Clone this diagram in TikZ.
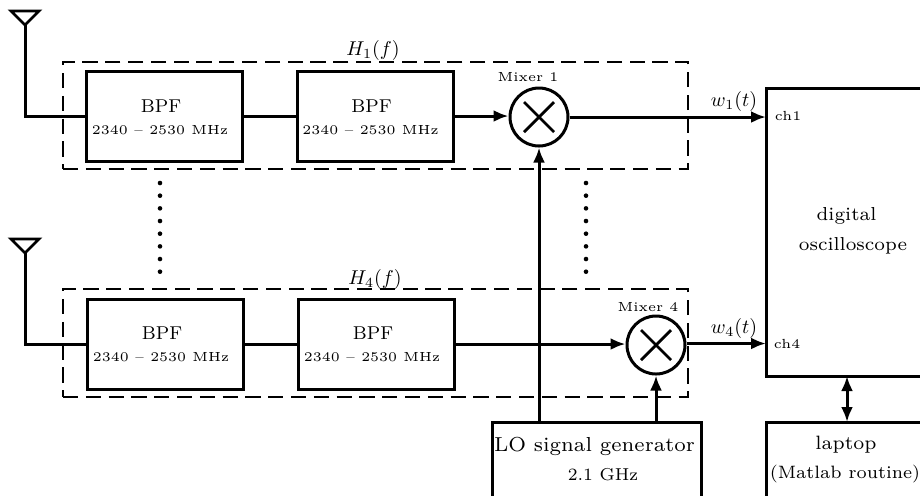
\documentclass[tikz,border=0pt]{standalone}
\usetikzlibrary{arrows.meta}
\tikzset{
  blk/.style={draw,line width=1.5pt,inner sep=0pt,minimum width=78pt,minimum height=45pt},
  mix/.style={draw,circle,line width=1.5pt,inner sep=0pt,minimum size=29pt},
  conn/.style={line width=1.5pt},
  arr/.style={line width=1.5pt,-{Latex[length=7.5pt,width=6pt]}},
  darr/.style={line width=1.5pt,{Latex[length=7.5pt,width=6pt]}-{Latex[length=7.5pt,width=6pt]}},
  frame/.style={draw,line width=0.75pt,dash pattern=on 7.6pt off 3.8pt,inner sep=0pt},
  ant/.style={draw,line width=1.35pt,line join=miter},
  big/.style={inner sep=0pt,font=\scriptsize,scale=1.34},
  bpf/.style={inner sep=0pt,font=\footnotesize,scale=1.16},
  small/.style={inner sep=0pt,font=\tiny,scale=1.32},
  mth/.style={inner sep=0pt,font=\normalsize},
  dot/.style={circle,fill=black,inner sep=0pt,minimum size=2.3pt}
}
\begin{document}
\begin{tikzpicture}[x=0.5pt,y=-0.5pt]
\useasboundingbox (0,0) rectangle (920,495);
\clip (0,0) rectangle (920,495);
% dashed frames
\node[frame,minimum width=312.5pt,minimum height=53.5pt] (f1) at (375.5,115.5) {};
\node[frame,minimum width=312.5pt,minimum height=54pt] (f4) at (375.5,343) {};
% blocks
\node[blk] (b11) at (164,116) {};
\node[blk] (b12) at (375,116) {};
\node[blk] (b41) at (165.5,344) {};
\node[blk] (b42) at (376,344) {};
\node[blk,minimum width=104.5pt,minimum height=60pt] (lo) at (596.5,482) {};
\node[blk,minimum width=120pt,minimum height=144pt] (osc) at (886,232) {};
\node[blk,minimum width=120pt,minimum height=60pt] (lap) at (886,482) {};
\foreach \n/\x/\y/\xx/\yy in {11/161/0/160/0,12/371.5/0/370.5/0,41/162/227/161/227,42/373/227/372/227}{
  \node[bpf] (t\n) at (\x,106+\y) {BPF};
  \node[small] (s\n) at (\xx,130+\yy) {2340 -- 2530 MHz};
}
\node[big,scale=1.08] (lot) at (594.5,446) {LO signal generator};
\node[big,scale=0.92] (lof) at (603,475) {2.1 GHz};
\node[big] (dig) at (846.5,216) {digital};
\node[big] (oscl) at (853,246) {oscilloscope};
\node[big,scale=1.03] (lapt) at (846,445) {laptop};
\node[big,scale=0.955] (matl) at (845,474) {(Matlab routine)};
% mixers
\node[mix] (m1) at (539,117) {};
\node[mix] (m4) at (656,345) {};
\foreach \m in {m1,m4}{
  \draw[line width=1.4pt] ([shift={(-15,-15)}]\m.center) -- ([shift={(15,15)}]\m.center);
  \draw[line width=1.4pt] ([shift={(15,-15)}]\m.center) -- ([shift={(-15,15)}]\m.center);
}
\node[small] (lm1) at (528,77) {Mixer 1};
\node[small] (lm4) at (648,307) {Mixer 4};
% antennas
\coordinate (a1) at (25,25);
\coordinate (a4) at (25,253);
\foreach \a in {a1,a4}{
  \draw[ant] ([shift={(0,0)}]\a) -- ([shift={(-14,-14)}]\a) -- ([shift={(14,-14)}]\a) -- cycle;
}
\draw[conn] (a1) |- (b11.west);
\draw[conn] (a4) |- (b41.west);
% connectors
\draw[conn] (b11) -- (b12);
\draw[conn] (b41) -- (b42);
\draw[arr] (b12.east) -- (m1.west |- b12.east);
\draw[arr] (b42.east) -- (m4.west |- b42.east);
\coordinate (c1) at (766,117);
\coordinate (c4) at (766,343.5);
\draw[arr] (m1.east) -- (c1);
\draw[arr] (m4.east |- c4) -- (c4);
\coordinate (l1) at (539,422);
\coordinate (l4) at (656,422);
\draw[arr] (l1) -- (m1.south);
\draw[arr] (l4) -- (m4.south);
\coordinate (d1) at (847,376);
\coordinate (d2) at (847,422);
\draw[darr] (d1) -- (d2);
% labels
\node[mth] (h1) at (373,50) {$H_1(f)$};
\node[mth] (h4) at (375,279) {$H_4(f)$};
\node[mth] (w1) at (734,101) {$w_1(t)$};
\node[mth] (w4) at (734,328) {$w_4(t)$};
\node[small] (ch1) at (788,116) {ch1};
\node[small] (ch4) at (787,344) {ch4};
% dots
\foreach \i in {0,...,7}{
  \node[dot] (dl\i) at (160,183+12.67*\i) {};
  \node[dot] (dr\i) at (586,183+12.67*\i) {};
}
\end{tikzpicture}
\end{document}
